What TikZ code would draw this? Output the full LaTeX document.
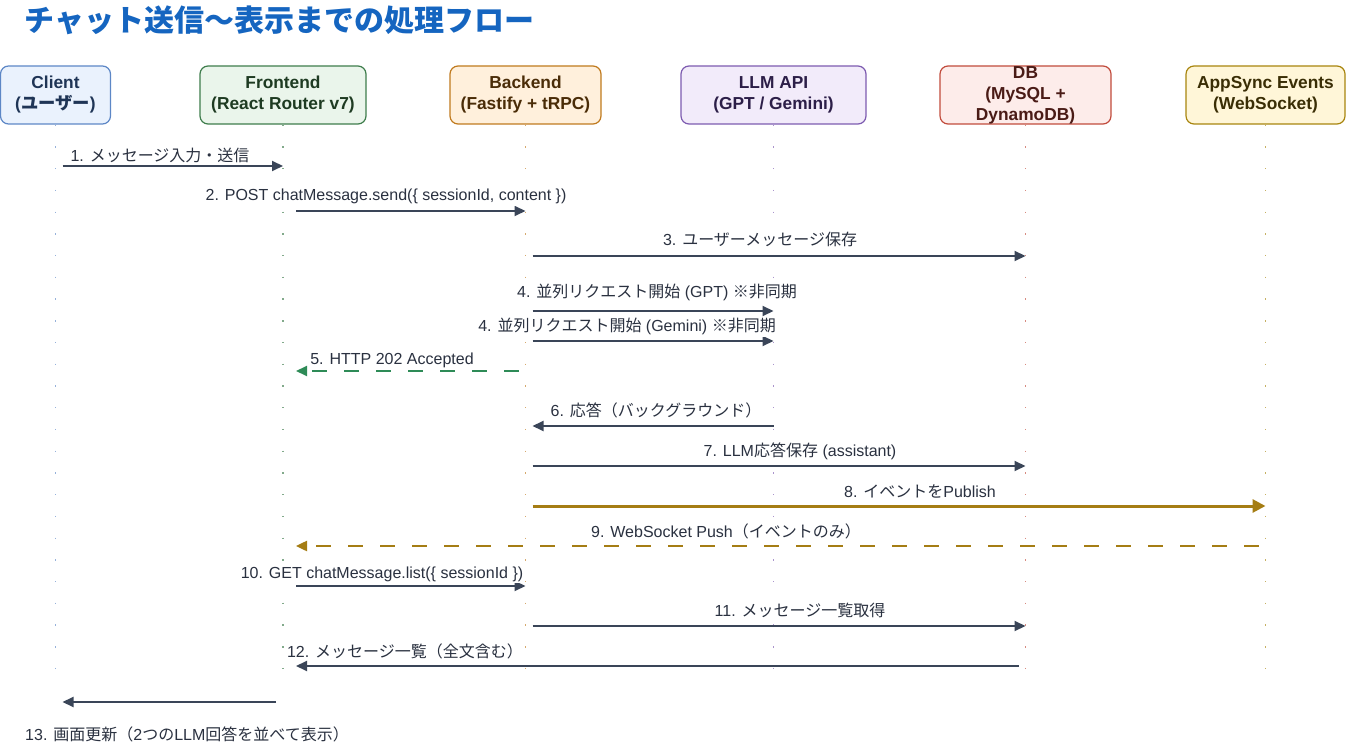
\documentclass[tikz,border=0pt]{standalone}
\usepackage{fontspec}
\usepackage{xcolor}
\usepackage{tikz}
\usetikzlibrary{arrows.meta,positioning}
\setmainfont{Liberation Sans}
\newfontfamily\jpfont{Noto Sans CJK JP}
\newcommand{\jp}[1]{{\jpfont #1}}
\definecolor{titleblue}{HTML}{1565C0}
\definecolor{flowink}{HTML}{3A4558}
\definecolor{labelink}{HTML}{2A3140}
\definecolor{okgreen}{HTML}{2E8B57}
\definecolor{pubgold}{HTML}{A57D14}
\definecolor{clifill}{HTML}{EAF2FD}
\definecolor{cliline}{HTML}{5D87C6}
\definecolor{clitext}{HTML}{1F3556}
\definecolor{fefill}{HTML}{EAF5EB}
\definecolor{feline}{HTML}{3E7D4C}
\definecolor{fetext}{HTML}{1E3B22}
\definecolor{befill}{HTML}{FFF0DC}
\definecolor{beline}{HTML}{C07A1E}
\definecolor{betext}{HTML}{4A2C07}
\definecolor{llmfill}{HTML}{F2EBFA}
\definecolor{llmline}{HTML}{7D5BB0}
\definecolor{llmtext}{HTML}{2C1E48}
\definecolor{dbfill}{HTML}{FDECEA}
\definecolor{dbline}{HTML}{C14B3C}
\definecolor{dbtext}{HTML}{4A1B16}
\definecolor{appsfill}{HTML}{FFF6D8}
\definecolor{appsline}{HTML}{A8850E}
\definecolor{appstext}{HTML}{3A2E05}

\begin{document}
\begin{tikzpicture}[
    x=0.75pt, y=-0.75pt,
    partbox/.style={rounded corners=6pt, line width=0.9pt, minimum height=43.5pt, inner sep=0pt},
    parttext/.style={font=\bfseries\fontsize{13}{15.75}\selectfont, align=center, inner sep=0pt},
    life/.style={draw=#1!65, line width=1.1pt, dash pattern=on 1pt off 15.3pt},
    msg/.style={-{Triangle[length=8.25pt,width=7.5pt]}, line width=1.5pt, draw=flowink, shorten <=5.25pt},
    reply/.style={msg, dash pattern=on 11.25pt off 12.75pt},
    msglabel/.style={anchor=base, font=\fontsize{12}{14}\selectfont, text=labelink, fill=white, inner sep=1pt}
  ]
    \useasboundingbox (0,0) rectangle (1346,748);

    \node[anchor=west, font=\jpfont\bfseries\fontsize{22.5}{26}\selectfont, text=titleblue] (title) at (20,20) {チャット送信〜表示までの処理フロー};

    % participants
    \node[partbox, draw=cliline, fill=clifill, minimum width=82.5pt,
      label={[parttext, text=clitext]center:Client\\(\jp{ユーザー})}] (cl) at (55.5,95) {};
    \node[partbox, draw=feline, fill=fefill, minimum width=124.5pt,
      label={[parttext, text=fetext]center:Frontend\\(React Router v7)}] (fe) at (283,95) {};
    \node[partbox, draw=beline, fill=befill, minimum width=113.25pt,
      label={[parttext, text=betext]center:Backend\\(Fastify + tRPC)}] (be) at (525.5,95) {};
    \node[partbox, draw=llmline, fill=llmfill, minimum width=138.75pt,
      label={[parttext, text=llmtext]center:LLM API\\(GPT / Gemini)}] (llm) at (773.5,95) {};
    \node[partbox, draw=dbline, fill=dbfill, minimum width=128.25pt,
      label={[parttext, text=dbtext]center:DB\\(MySQL +\\DynamoDB)}] (db) at (1025.5,95) {};
    \node[partbox, draw=appsline, fill=appsfill, minimum width=119.25pt,
      label={[parttext, text=appstext]center:AppSync Events\\(WebSocket)}] (apps) at (1265.5,95) {};

    % lifelines
    \coordinate (bottom) at (0,680);
    \foreach \p/\c in {cl/cliline, fe/feline, be/beline, llm/llmline, db/dbline, apps/appsline}
      \draw[life=\c] (\p.south) -- (\p |- bottom);

    % message rows
    \foreach \n/\y in {1/166, 2/211, 3/256, 4/311, 5/341, 6/371, 7/426,
                       8/466, 9/506, 10/546, 11/586, 12/626, 13/666, 14/702}
      \coordinate (r\n) at (0,\y);

    \draw[msg] (cl |- r1) -- (fe |- r1);
    \draw[msg, shorten <=9.75pt] (fe |- r2) -- (be |- r2);
    \draw[msg] (be |- r3) -- (db |- r3);
    \draw[msg] (be |- r4) -- (llm |- r4);
    \draw[msg] (be |- r5) -- (llm |- r5);
    \draw[reply, draw=okgreen, shorten >=9.75pt] (be |- r6) -- (fe |- r6);
    \draw[msg, shorten <=0pt, shorten >=5.25pt] (llm |- r7) -- (be |- r7);
    \draw[msg] (be |- r8) -- (db |- r8);
    \draw[msg, draw=pubgold, line width=2.25pt, -{Triangle[length=9.75pt,width=9.75pt]}] (be |- r9) -- (apps |- r9);
    \draw[reply, draw=pubgold, line width=1.8pt, shorten >=9.75pt] (apps |- r10) -- (fe |- r10);
    \draw[msg, shorten <=9.75pt] (fe |- r11) -- (be |- r11);
    \draw[msg] (be |- r12) -- (db |- r12);
    \draw[msg, shorten >=9.75pt] (db |- r13) -- (fe |- r13);
    \draw[msg, shorten >=5.25pt] (fe |- r14) -- (cl |- r14);

    % labels
    \node[msglabel] (t1) at (160,162) {1. \jp{メッセージ入力・送信}};
    \node[msglabel] (t2) at (386,201) {2. POST chatMessage.send(\{ sessionId, content \})};
    \node[msglabel] (t3) at (760,246) {3. \jp{ユーザーメッセージ保存}};
    \node[msglabel] (t4) at (657,298) {4. \jp{並列リクエスト開始} (GPT) \jp{※非同期}};
    \node[msglabel] (t5) at (627,332) {4. \jp{並列リクエスト開始} (Gemini) \jp{※非同期}};
    \node[msglabel] (t6) at (392,365) {5. HTTP 202 Accepted};
    \node[msglabel] (t7) at (656,417) {6. \jp{応答（バックグラウンド）}};
    \node[msglabel] (t8) at (800,456) {7. LLM\jp{応答保存} (assistant)};
    \node[msglabel] (t9) at (920,497) {8. \jp{イベントを}Publish};
    \node[msglabel] (t10) at (726,537) {9. WebSocket Push\jp{（イベントのみ）}};
    \node[msglabel] (t11) at (382,578) {10. GET chatMessage.list(\{ sessionId \})};
    \node[msglabel] (t12) at (800,616) {11. \jp{メッセージ一覧取得}};
    \node[msglabel] (t13) at (405,657) {12. \jp{メッセージ一覧（全文含む）}};
    \node[msglabel] (t14) at (187,740) {13. \jp{画面更新（}2\jp{つの}LLM\jp{回答を並べて表示）}};
  \end{tikzpicture}
\end{document}
